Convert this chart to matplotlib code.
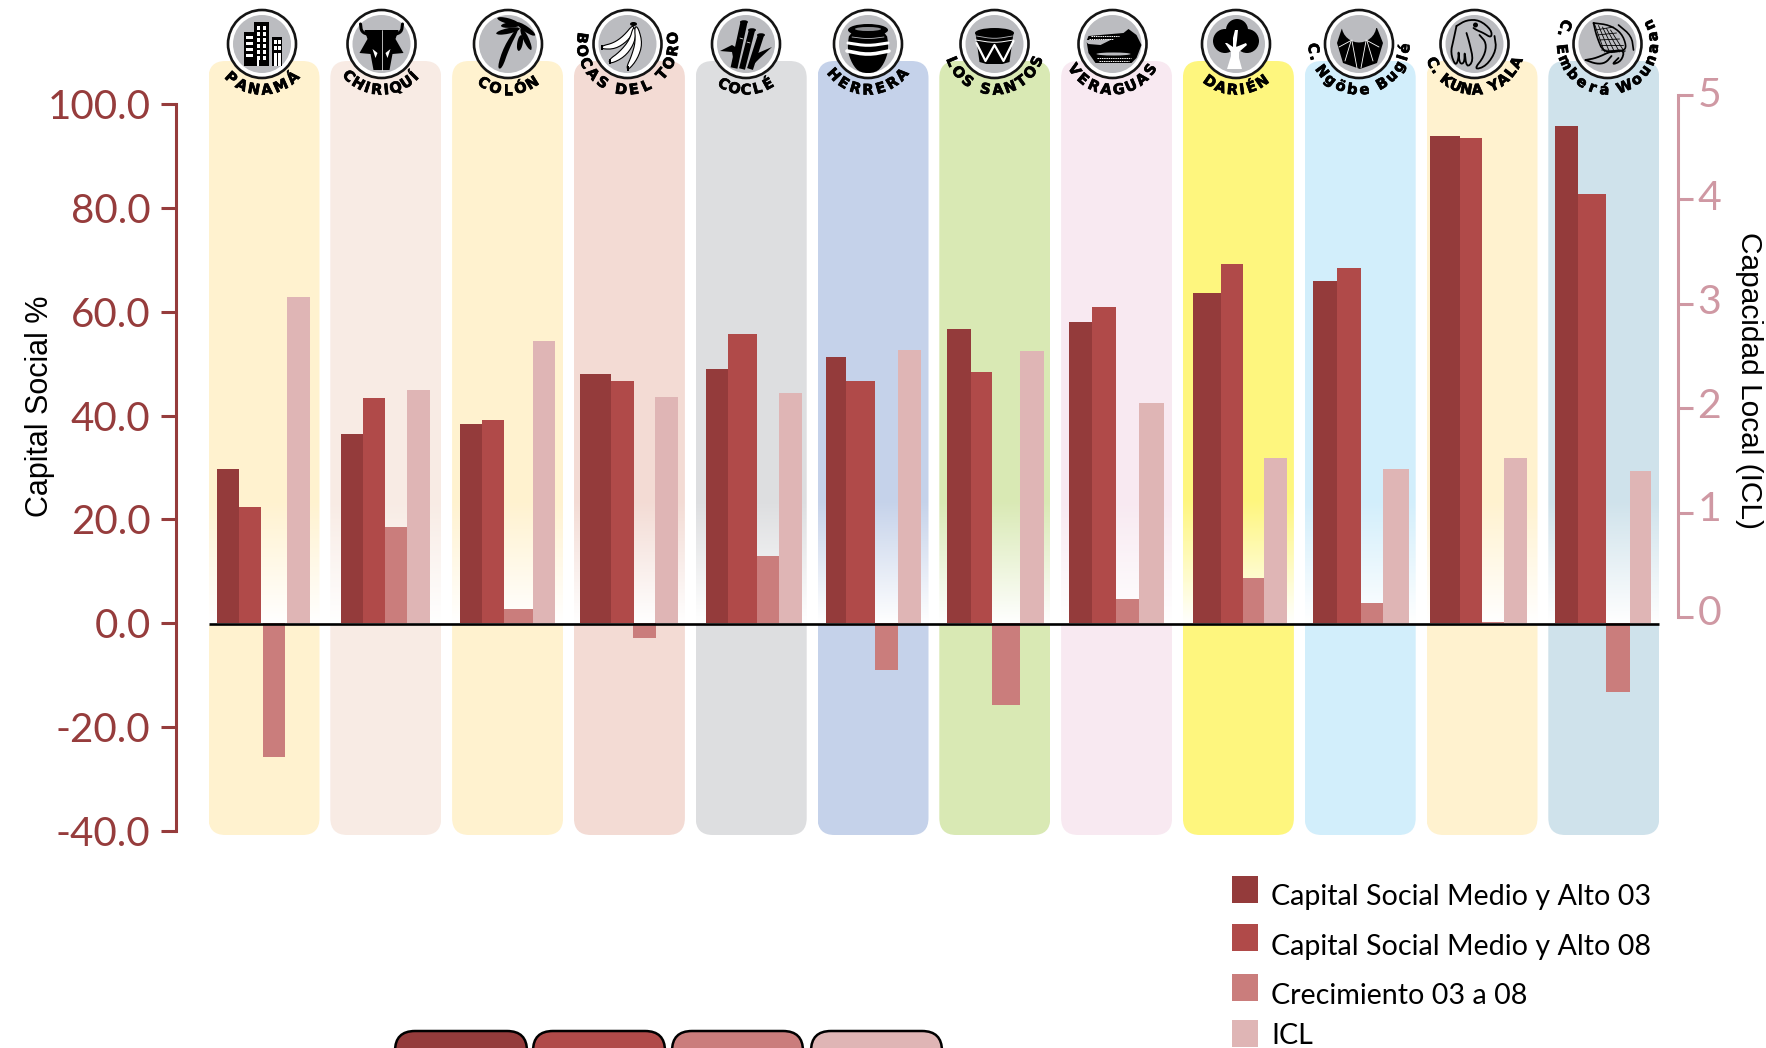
import numpy as np
import matplotlib
matplotlib.use('Agg')
import matplotlib.pyplot as plt
import matplotlib.patheffects as pe
from matplotlib.colors import to_rgb
from matplotlib.patches import Ellipse, FancyBboxPatch, Polygon, Rectangle
from matplotlib.ticker import FormatStrFormatter
from matplotlib.transforms import ScaledTranslation

W, H = 1766, 1048

# data
regions = ['PANAMÁ', 'CHIRIQUÍ', 'COLÓN', 'BOCAS DEL TORO', 'COCLÉ', 'HERRERA', 'LOS SANTOS',
           'VERAGUAS', 'DARIÉN', 'C. Ngöbe Buglé', 'C. KUNA YALA', 'C. Emberá Wounaan']
capital_03 = [29.8, 36.5, 38.3, 48.0, 49.0, 51.3, 56.7, 58.0, 63.7, 65.9, 93.9, 95.7]
capital_08 = [22.4, 43.3, 39.1, 46.7, 55.7, 46.7, 48.3, 60.9, 69.1, 68.5, 93.5, 82.6]
crecimiento = [-25.7, 18.5, 2.8, -2.8, 13.0, -8.9, -15.7, 4.6, 8.7, 3.9, 0.2, -13.3]
icl = [3.06, 2.17, 2.64, 2.11, 2.14, 2.56, 2.55, 2.05, 1.52, 1.42, 1.52, 1.40]
legend_labels = ['Capital Social Medio y Alto 03', 'Capital Social Medio y Alto 08',
                 'Crecimiento 03 a 08', 'ICL']

# styles and layout
bar_colors = ['#943B3B', '#B04A49', '#CA7D7C', '#DFB5B5']
panel_colors = ['#FFF2CF', '#F8EBE4', '#FFF2CF', '#F3DBD4', '#DDDEE0', '#C5D2EA',
                '#D9E9B4', '#F8E9F1', '#FEF67E', '#D2EEFB', '#FFF2CF', '#CFE2EB']
# bar edges in pixels: 03 left, 08 left, 08 right, growth left/right, icl left/right
bar_edges = [
    (217, 239, 261, 263, 285, 287, 310),
    (341, 363, 385, 385, 407, 407, 430),
    (460, 482, 503.5, 503.5, 533, 533, 555),
    (580, 611, 634, 633, 656, 655, 678),
    (706, 727.6, 757, 757, 779.4, 779.4, 802),
    (825.6, 845.8, 875, 875, 897.6, 897.6, 921.3),
    (947.2, 970.9, 992.3, 992.3, 1020.4, 1020.4, 1044),
    (1069, 1092, 1116, 1116, 1139, 1139, 1164),
    (1193, 1220.7, 1243, 1243, 1264, 1264, 1287),
    (1313, 1337, 1360.6, 1360.6, 1383, 1383, 1409),
    (1430.4, 1459.6, 1482.2, 1482.2, 1503.6, 1503.6, 1527.3),
    (1555.4, 1577.9, 1606, 1606, 1629.8, 1629.8, 1651),
]
icon_x = [262, 381.5, 508, 627.5, 746, 868, 994.5, 1112.5, 1236, 1359, 1474.5, 1607.5]
label_step = [17, 13, 16, 15, 14.5, 16, 15, 16, 14, 13, 12, 14.3]
AXIS_RED = '#963C3C'
AXIS_PINK = '#CF98A3'
TICK_FONT = 'Lato'

fig = plt.figure(figsize=(W / 100, H / 100), dpi=100)


def px_axes(left, top, right, bottom):
    return fig.add_axes([left / W, 1 - bottom / H, (right - left) / W, (bottom - top) / H])


# background panels with the fade to white just above zero
bg = px_axes(0, 0, W, H)
bg.set_xlim(0, W)
bg.set_ylim(H, 0)
bg.axis('off')
bg.set_zorder(0)
panel_top, panel_bottom = 61, 835
rows = np.arange(panel_top, panel_bottom)
fade = np.clip((rows - 500) / (623 - 500), 0, 0.97)
fade[rows >= 625] = 0
for i, c in enumerate(panel_colors):
    left = 208.5 + 121.8 * i
    rgb = np.array(to_rgb(c))
    img = (rgb[None, :] * (1 - fade[:, None]) + fade[:, None])[:, None, :]
    im = bg.imshow(img, extent=(left, left + 111, panel_bottom, panel_top), aspect='auto')
    clip = FancyBboxPatch((left + 17, panel_top + 17), 111 - 34, panel_bottom - panel_top - 34,
                          boxstyle='round,pad=17,rounding_size=17', fc='none', ec='none',
                          transform=bg.transData)
    bg.add_patch(clip)
    im.set_clip_path(clip)
bg.set_xlim(0, W)
bg.set_ylim(H, 0)

# left axis
ax = px_axes(175.5, 104, 1678, 831)
ax.patch.set_alpha(0)
ax.set_zorder(1)
ax.set_xlim(175.5, 1678)
ax.set_ylim(-40, 100)
for i, e in enumerate(bar_edges):
    ax.bar(e[0], capital_03[i], width=e[1] - e[0], align='edge', color=bar_colors[0])
    ax.bar(e[1], capital_08[i], width=e[2] - e[1], align='edge', color=bar_colors[1])
    ax.bar(e[3], crecimiento[i], width=e[4] - e[3], align='edge', color=bar_colors[2])
ax.plot([208.5, 1659], [-0.2, -0.2], color='black', lw=1.9, solid_capstyle='butt', zorder=5)
for s in ['top', 'right', 'bottom']:
    ax.spines[s].set_visible(False)
ax.spines['left'].set_color(AXIS_RED)
ax.spines['left'].set_linewidth(2.2)
ax.set_xticks([])
ax.set_yticks(np.arange(-40, 101, 20))
ax.yaxis.set_major_formatter(FormatStrFormatter('%.1f'))
ax.tick_params(axis='y', colors=AXIS_RED, length=11, width=2.2, pad=7, labelsize=29)
for t in ax.get_yticklabels():
    t.set_fontfamily(TICK_FONT)

# right axis, 0 sits a little above the zero line of the left one
ax2 = px_axes(175.5, 94.7, 1678, 617)
ax2.patch.set_alpha(0)
ax2.set_zorder(2)
ax2.set_xlim(175.5, 1678)
ax2.set_ylim(0, 5)
baseline = -6 / ((617 - 94.7) / 5)
for i, e in enumerate(bar_edges):
    ax2.bar(e[5], icl[i] - baseline, bottom=baseline, width=e[6] - e[5], align='edge',
            color=bar_colors[3], clip_on=False)
for s in ['top', 'left', 'bottom']:
    ax2.spines[s].set_visible(False)
ax2.spines['right'].set_color(AXIS_PINK)
ax2.spines['right'].set_linewidth(2.2)
ax2.yaxis.tick_right()
ax2.set_xticks([])
ax2.set_yticks(range(6))
ax2.tick_params(axis='y', colors=AXIS_PINK, length=11, width=2.2, pad=3, labelsize=29.5)
for v, t in enumerate(ax2.get_yticklabels()):
    t.set_fontfamily(TICK_FONT)
    # the labels run a bit tighter than the ticks
    t.set_transform(t.get_transform() + ScaledTranslation(0, (3 + (5 - v) * 0.85) / 100, fig.dpi_scale_trans))

# everything on top: icons, arc labels, legend, axis titles
top = px_axes(0, 0, W, H)
top.set_xlim(0, W)
top.set_ylim(H, 0)
top.axis('off')
top.patch.set_alpha(0)
top.set_zorder(3)
CY = 44
GREY = '#BBBCC0'


def chaikin(pts, closed=False, n=2):
    # rounds the corners of the hand traced icon outlines
    p = np.array(pts, float)
    for _ in range(n):
        nxt = np.roll(p, -1, axis=0)
        a, b = 0.75 * p + 0.25 * nxt, 0.25 * p + 0.75 * nxt
        q = np.empty((2 * len(p), 2))
        q[0::2], q[1::2] = a, b
        p = q if closed else np.vstack([p[:1], q[:-2], p[-1:]])
    return p


def ell(cx, dx, dy, w, h, color='black', angle=0, **kw):
    top.add_patch(Ellipse((cx + dx, CY + dy), w, h, angle=angle, fc=color, ec=kw.pop('ec', 'none'), **kw))


def poly(cx, pts, color='black', smooth=False, **kw):
    p = chaikin(pts, closed=True) if smooth else np.array(pts, float)
    top.add_patch(Polygon(p + [cx, CY], closed=True, fc=color, ec=kw.pop('ec', 'none'), **kw))


def box(cx, x0, y0, x1, y1, color='black'):
    top.add_patch(Rectangle((cx + x0, CY + y0), x1 - x0, y1 - y0, fc=color, ec='none'))


def line(cx, pts, color='black', lw=1.2, smooth=True, **kw):
    p = chaikin(pts) if smooth else np.array(pts, float)
    top.plot(p[:, 0] + cx, p[:, 1] + CY, color=color, lw=lw, solid_capstyle='round', **kw)


def icon_panama(c):
    box(c, -8, -22, 7, 22)
    box(c, -18, -12, -8, 22)
    box(c, 10, -7, 20, 22)
    for x in (-5, 1):
        for y in (-18, -12, -6, 0, 6, 12):
            box(c, x, y, x + 3, y + 4, 'white')
    for y in (-8, -2, 4, 10):
        box(c, -16, y, -9, y + 3, 'white')
    for x in (12, 16):
        for y in (-4, 2):
            box(c, x, y, x + 2.5, y + 4, 'white')
        box(c, x, 9, x + 2.5, 22, 'white')
    box(c, -5, 16, -3, 22, 'white')


def icon_chiriqui(c):
    line(c, [(-21, -20), (-20, -12), (-12, -9)], lw=2.2)
    line(c, [(21, -20), (20, -12), (12, -9)], lw=2.2)
    poly(c, [(-17, -14), (17, -14), (14, -5), (22, 9), (11, 10), (8, 26), (-8, 26), (-11, 10), (-22, 9), (-14, -5)])
    poly(c, [(-9, 5), (-4, 9), (-6, 14)], 'white')
    poly(c, [(9, 5), (4, 9), (6, 14)], 'white')
    line(c, [(0, -14), (0, 26)], 'white', 0.5, smooth=False)


def icon_colon(c):
    poly(c, [(-11, 24), (-6, 25), (1, 5), (11, -15), (9, -17), (-4, 2)], smooth=True)
    for a, w, dx, dy in [(15, 22, 0, -23), (-12, 24, 0, -13), (65, 24, 18, -5), (35, 22, 18, -15),
                         (100, 16, 12, -1), (-5, 20, 3, -19)]:
        ell(c, dx, dy, w, 5.5, angle=a)


def icon_bocas(c):
    for pts in [[(6, -20), (-4, -8), (-14, -1), (-26, 2), (-26, 5), (-12, 5), (0, -3), (6, -12)],
                [(6, -18), (2, -4), (-8, 8), (-19, 16), (-17, 20), (-3, 13), (6, 1), (9, -12)],
                [(7, -18), (8, -2), (4, 12), (-1, 23), (1, 26), (10, 15), (15, 0), (11, -16)]]:
        poly(c, pts, 'white', smooth=True, ec='black', lw=0.8)
    ell(c, 6, -20, 7, 4)
    box(c, -27, 1, -25, 6)
    box(c, -19, 15, -17, 20)
    box(c, -1, 22, 1, 27)


def icon_cocle(c):
    poly(c, [(-26, 7), (-14, 1), (-9, 4), (-11, 24), (-14, 8)])
    poly(c, [(26, 3), (12, 9), (3, 25), (13, 15)])
    for (x0, y0, x1, y1, w) in [(-2, -22, -12, 24, 5), (6, -14, -4, 25, 4.4), (15, -9, 4, 25, 4.4)]:
        top.plot([c + x0, c + x1], [CY + y0, CY + y1], color='black', lw=w, solid_capstyle='butt')
        ell(c, x0, y0, 8, 3.5)
    line(c, [(-6, -6), (-3, -5)], 'white', 0.5, smooth=False)
    line(c, [(1, -2), (4, -1)], 'white', 0.5, smooth=False)


def icon_herrera(c):
    poly(c, [(-18, -15), (18, -15), (21, 5), (16, 20), (8, 29), (-8, 29), (-16, 20), (-21, 5)], smooth=True)
    ell(c, 0, -14, 40, 12)
    ell(c, 0, -15, 26, 4, '#8d8e92')
    line(c, [(-16, -7), (0, -5), (16, -7)], GREY, 0.6)
    line(c, [(-20, -1), (0, 2), (20, -1)], 'white', 2.2)
    line(c, [(-21, 7), (0, 11), (21, 7)], 'white', 2.6)


def icon_los_santos(c):
    poly(c, [(-19, -11), (19, -11), (15, 18), (8, 20), (-8, 20), (-15, 18)])
    ell(c, 0, -11, 39, 10)
    line(c, [(-18, -8), (0, -5), (18, -8)], GREY, 0.6)
    line(c, [(-19, -4), (0, -1), (19, -4)], 'white', 0.7)
    line(c, [(-18, -1), (-9, 17), (0, 1), (9, 17), (19, -3)], 'white', 1.6, smooth=False)


def icon_veraguas(c):
    poly(c, [(-24, -8), (11, -11), (16, -15), (24, -9), (29, 1), (24, 14), (19, 19), (-17, 19), (-24, 9), (-26, -3)])
    poly(c, [(-29, -4), (-14, -4), (0, -5), (-12, 1), (-24, 0)], GREY)
    ell(c, 1, 10, 34, 3, GREY)
    for y, x0, x1 in [(-8, -22, 6), (-5, -24, 0), (14, -16, 18), (17, -14, 16)]:
        line(c, [(x0, y), (x1, y)], 'white', 0.7, smooth=False, dashes=(1.5, 0.8))


def icon_darien(c):
    for dx, dy, s in [(1, -14, 22), (-11, -3, 24), (11, -3, 24)]:
        ell(c, dx, dy, s, s)
    poly(c, [(-1, -14), (2, -14), (1, -4), (0, 3), (10, -1), (11, 1), (3, 8), (3, 14), (6, 25), (-9, 25),
             (-5, 12), (-5, 8), (-11, -1), (-9, -1), (-3, 3), (-3, -6)], 'white')


def icon_ngobe(c):
    t = np.radians(np.linspace(170, 10, 15))
    scoop = np.column_stack([17.5 * np.cos(t), -19 + 17.5 * np.sin(t)])
    outer = np.array([(18, -16), (24, -1), (18, 19), (1, 25), (-16, 19), (-22, -1), (-17, -16)], float)
    poly(c, np.vstack([outer, scoop]))
    for p0, p1 in [((-20, 3), (-7, -4)), ((-8, -3), (-14, 17)), ((-7, -3), (-2, 24)),
                   ((7, -3), (2, 24)), ((8, -3), (14, 17)), ((20, 3), (7, -4))]:
        line(c, [p0, p1], 'white', 0.6, smooth=False)


def icon_kuna(c):
    line(c, [(-18, -18), (-8, -24), (5, -24), (17, -14), (17, -6), (9, -11), (2, -14), (-1, -16)], lw=1.3)
    line(c, [(5, -9), (12, -1), (10, 12), (-1, 26), (12, 22), (22, 6), (20, -8)], lw=1.3)
    line(c, [(-18, -18), (-21, -4), (-24, 9), (-19, 22), (-16, 15), (-16, 6), (-15, 20), (-10, 19), (-10, 6),
             (-8, 24), (-1, 17), (-5, -1), (-8, -11)], lw=1.3)
    ell(c, 1, -19, 5, 5)


def icon_embera(c):
    line(c, [(-14, -21), (2, -19), (14, -11), (19, 2), (16, 7), (-4, 9), (-11, -8), (-14, -21)], lw=1.2)
    for k in range(5):
        line(c, [(-13 + k * 4, -20 + k * 1.5), (-3 + k * 5, 8)], lw=0.6, smooth=False)
        line(c, [(-12 + k * 1.5, -14 + k * 5), (6 + k * 3, -17 + k * 6)], lw=0.6, smooth=False)
    line(c, [(11, -19), (24, -8), (26, 6)], lw=1.2)
    line(c, [(-22, 16), (-11, 14), (4, 7), (17, 6), (14, 17), (4, 21), (11, 14)], lw=1.3)
    line(c, [(-22, 16), (-11, 20), (-2, 19), (4, 12)], lw=1.3)


icons = [icon_panama, icon_chiriqui, icon_colon, icon_bocas, icon_cocle, icon_herrera, icon_los_santos,
         icon_veraguas, icon_darien, icon_ngobe, icon_kuna, icon_embera]

NARROW = {' ': 0.55, '.': 0.5, 'I': 0.6, 'Í': 0.6, 'l': 0.6, 'E': 1.0, 'M': 1.25, 'W': 1.3, 'm': 1.3}

for cx, name, step, draw in zip(icon_x, regions, label_step, icons):
    top.add_patch(Ellipse((cx, CY), 68, 68, fc='white', ec='#151515', lw=1.9))
    top.add_patch(Ellipse((cx, CY), 58, 58, fc=GREY, ec='none'))
    draw(cx)
    n = len(name)
    # spread the letters by width over the same total arc
    w = np.array([NARROW.get(ch, 1.0) for ch in name])
    gaps = (w[:-1] + w[1:]) / 2
    a_pos = np.concatenate([[0], np.cumsum(gaps)])
    a_pos = (a_pos / a_pos[-1] - 0.5) * (n - 1) * step
    for ch, a in zip(name, a_pos):
        r = np.radians(a)
        top.text(cx + 46 * np.sin(r), CY + 46 * np.cos(r), ch, rotation=a, rotation_mode='anchor',
                 ha='center', va='center', fontsize=10.5, fontweight='bold', family='DejaVu Sans',
                 color='black', path_effects=[pe.withStroke(linewidth=0.5, foreground='black')])

# legend
legend_y = [(876, 903, 896.5), (924, 951, 946.5), (974, 1001, 996.5), (1020, 1047, 1036.5)]
for (y0, y1, yt), color, label in zip(legend_y, bar_colors, legend_labels):
    top.add_patch(Rectangle((1232, y0), 26, y1 - y0, fc=color, ec='none'))
    top.text(1271, yt, label, fontsize=20.6, family='Lato', ha='left', va='center', color='black')

# buttons cut off by the bottom edge
for (x0, x1), color in zip([(395, 527), (533, 665), (672, 803), (811, 942)], bar_colors):
    top.add_patch(FancyBboxPatch((x0 + 20, 1051), x1 - x0 - 40, 60, boxstyle='round,pad=20,rounding_size=20',
                                 fc=color, ec='black', lw=1.8))

top.text(40, 406, 'Capital Social %', rotation=90, fontsize=22, family='Liberation Sans',
         ha='center', va='center', color='black')
top.text(1749, 380, 'Capacidad Local (ICL)', rotation=270, fontsize=21.5, family='Liberation Sans',
         ha='center', va='center', color='black')

fig.savefig('out.png', dpi=100)
